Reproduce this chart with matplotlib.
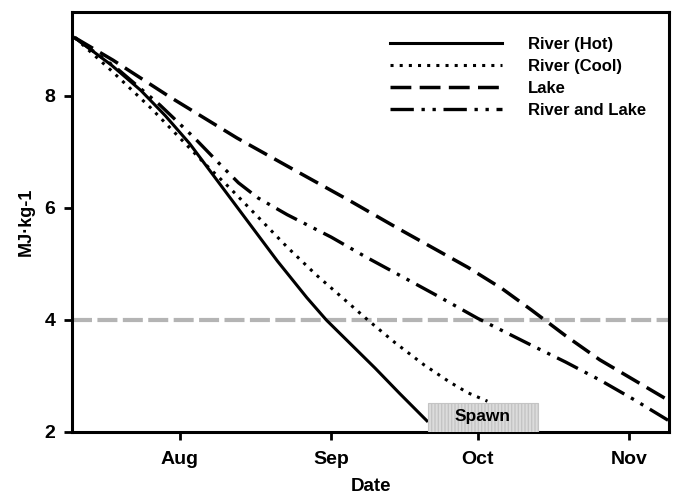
import matplotlib
matplotlib.use("Agg")
import matplotlib.pyplot as plt
from matplotlib.patches import Rectangle

plt.rcParams['font.family'] = ['Liberation Sans', 'DejaVu Sans']
plt.rcParams['font.weight'] = 'bold'
plt.rcParams['hatch.color'] = '#cfcfcf'

# x values: days relative to 1 August
tick_days = [0, 31, 61, 92]
tick_labels = ['Aug', 'Sep', 'Oct', 'Nov']

hot_days = [-21.5, -14, -8, -3, 2, 8, 14, 20, 26, 30, 35, 40, 45, 50.6]
hot_vals = [9.04, 8.55, 8.1, 7.65, 7.15, 6.45, 5.75, 5.05, 4.4, 4.0, 3.57, 3.14, 2.69, 2.2]

cool_days = [-21.5, -14, -6, 0, 5, 10.2, 16, 22, 28, 33, 38.5, 44, 50, 55.3, 59, 63]
cool_vals = [9.04, 8.45, 7.79, 7.25, 6.8, 6.36, 5.84, 5.3, 4.8, 4.42, 4.0, 3.6, 3.2, 2.89, 2.7, 2.55]

lake_days = [-21.5, -13.7, -2, 11.7, 23, 35, 45, 52, 59, 66, 72, 79, 86, 93, 100]
lake_vals = [9.04, 8.64, 7.98, 7.25, 6.7, 6.12, 5.62, 5.28, 4.94, 4.56, 4.18, 3.72, 3.29, 2.93, 2.57]

rl_days = [-21.5, -13, -4.1, 3, 8, 12, 16, 22, 31, 38, 45, 53, 61, 72, 79, 86, 93, 100]
rl_vals = [9.04, 8.5, 7.84, 7.25, 6.8, 6.45, 6.18, 5.88, 5.48, 5.13, 4.8, 4.42, 4.03, 3.55, 3.25, 2.93, 2.58, 2.21]

threshold = 4.0
spawn_start, spawn_end, spawn_top = 50.8, 73.4, 2.52

fig = plt.figure(figsize=(6.78, 4.96), dpi=100)
ax = fig.add_axes([72/678, 64/496, 597/678, 420/496])

lw = 2.2
ax.axhline(threshold, color='#b4b4b4', lw=3.0, dashes=(4.8, 1.3), zorder=1)

ax.plot(hot_days, hot_vals, color='black', lw=lw, label='River (Hot)', zorder=3)
ax.plot(cool_days, cool_vals, color='black', lw=lw, dashes=(1, 2.0), label='River (Cool)', zorder=3)
ax.plot(lake_days, lake_vals, color='black', lw=lw + 0.3, dashes=(6, 2.4), label='Lake', zorder=3)
ax.plot(rl_days, rl_vals, color='black', lw=lw + 0.2, dashes=(7, 2.3, 1, 2.3, 1, 2.3), label='River and Lake', zorder=3)

rect = Rectangle((spawn_start, 2.0), spawn_end - spawn_start, spawn_top - 2.0,
                 facecolor='#dcdcdc', edgecolor='#c4c4c4', lw=0.8, hatch='|||||', zorder=4)
ax.add_patch(rect)
ax.text((spawn_start + spawn_end) / 2, 2.0 + (spawn_top - 2.0) * 0.52, 'Spawn',
        ha='center', va='center', fontsize=12.5, fontweight='bold', zorder=5)

ax.set_xlim(-22.1, 100.2)
ax.set_ylim(2, 9.5)
ax.set_xticks(tick_days)
ax.set_xticklabels(tick_labels)
ax.set_yticks([2, 4, 6, 8])
ax.set_yticklabels(['2', '4', '6', '8'])
ax.tick_params(direction='out', length=6, width=2, labelsize=14)
ax.tick_params(axis='x', pad=8)
ax.tick_params(axis='y', pad=6)
for lab in ax.get_xticklabels() + ax.get_yticklabels():
    lab.set_fontweight('bold')
for s in ax.spines.values():
    s.set_linewidth(2.2)

ax.set_xlabel('Date', fontsize=13.5, fontweight='bold', labelpad=7)
ax.set_ylabel('MJ·kg-1', fontsize=13, fontweight='bold', labelpad=7)

leg = ax.legend(loc='upper left', bbox_to_anchor=(0.533, 0.94), frameon=False,
                fontsize=12, handlelength=6.7, handletextpad=1.55,
                labelspacing=0.42, borderpad=0, borderaxespad=0)
for t in leg.get_texts():
    t.set_fontweight('bold')

fig.savefig('out.png', dpi=100, facecolor='white')
